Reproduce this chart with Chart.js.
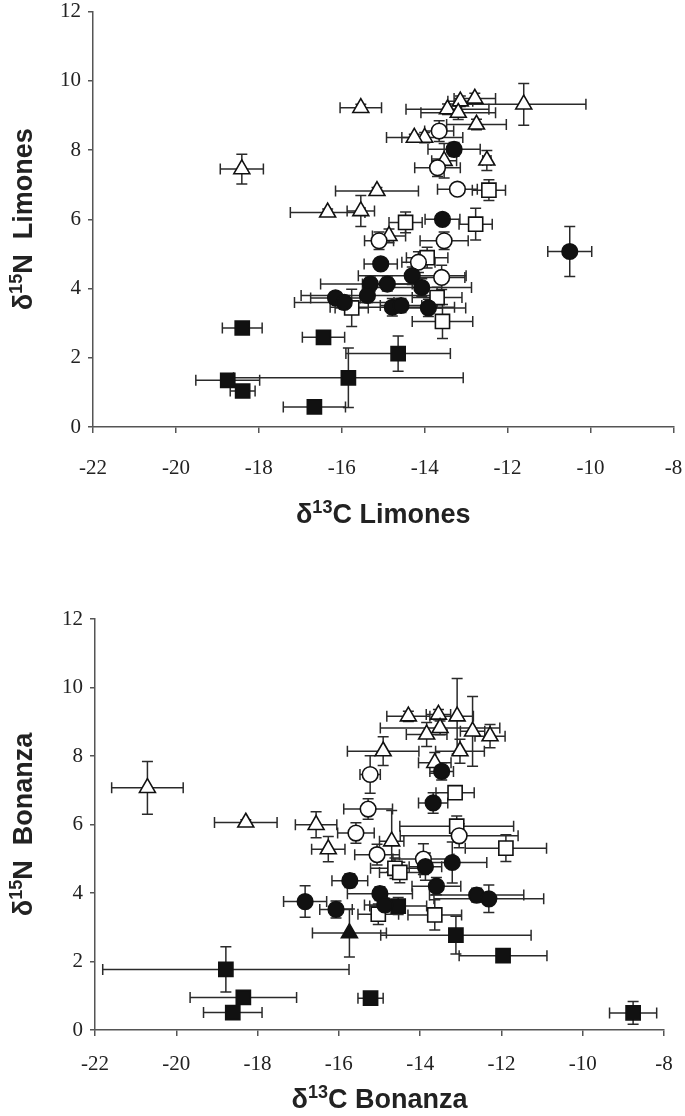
<!DOCTYPE html>
<html>
<head>
<meta charset="utf-8">
<script src="https://cdn.jsdelivr.net/npm/chart.js@4.4.1/dist/chart.umd.min.js"></script>
<style>
  html, body { margin: 0; padding: 0; background: #ffffff; }
  body { width: 685px; height: 1116px; position: relative; overflow: hidden; }
  .box { position: absolute; left: 0; width: 685px; height: 558px; }
  #boxTop { top: 0; }
  #boxBottom { top: 558px; }
</style>
</head>
<body>
<div class="box" id="boxTop"><canvas id="chartTop" width="685" height="558"></canvas></div>
<div class="box" id="boxBottom"><canvas id="chartBottom" width="685" height="558"></canvas></div>
<script>
// ---------- tick labels ----------
const xTickValues = [-22, -20, -18, -16, -14, -12, -10, -8];
const yTickValues = [0, 2, 4, 6, 8, 10, 12];

// ---------- axis titles (text / superscript parts) ----------
const limXTitle = [['δ', false], ['13', true], ['C Limones', false]];
const limYTitle = [['δ', false], ['15', true], ['N  Limones', false]];
const bonXTitle = [['δ', false], ['13', true], ['C Bonanza', false]];
const bonYTitle = [['δ', false], ['15', true], ['N  Bonanza', false]];

// ---------- Limones (top) ----------
const limOpenTriX    = [-18.41, -15.54, -15.15, -16.34, -15.54, -11.61, -12.79, -13.14, -13.45, -13.19, -12.75, -14.00, -14.25, -13.53, -12.50, -14.86];
const limOpenTriY    = [7.45, 9.22, 6.82, 6.20, 6.24, 9.32, 9.49, 9.41, 9.18, 9.08, 8.74, 8.36, 8.36, 7.69, 7.70, 5.52];
const limOpenTriXErr = [0.52, 0.50, 1.00, 0.90, 0.33, 1.50, 0.50, 0.30, 1.00, 0.90, 0.72, 0.92, 0.30, 0.30, 0.10, 0.40];
const limOpenTriYErr = [0.43, 0.10, 0.10, 0.10, 0.45, 0.60, 0.15, 0.15, 0.15, 0.20, 0.15, 0.15, 0.10, 0.50, 0.29, 0.20];

const limOpenCircX    = [-13.65, -13.69, -13.21, -13.53, -14.15, -13.59, -15.10];
const limOpenCircY    = [8.55, 7.49, 6.87, 5.38, 4.76, 4.32, 5.38];
const limOpenCircXErr = [0.35, 0.55, 0.48, 0.58, 0.40, 0.56, 0.35];
const limOpenCircYErr = [0.30, 0.25, 0.10, 0.25, 0.30, 0.35, 0.25];

const limFillCircX    = [-13.29, -13.57, -10.50, -15.06, -15.31, -14.90, -14.30, -14.07, -15.38, -16.15, -15.94, -14.78, -14.57, -13.91];
const limFillCircY    = [8.02, 6.00, 5.07, 4.71, 4.13, 4.13, 4.37, 4.03, 3.80, 3.73, 3.60, 3.46, 3.51, 3.44];
const limFillCircXErr = [0.63, 0.42, 0.53, 0.40, 1.20, 0.60, 1.30, 1.20, 1.60, 0.60, 1.20, 1.50, 0.50, 0.90];
const limFillCircYErr = [0.20, 0.15, 0.72, 0.15, 0.20, 0.20, 0.25, 0.25, 0.20, 0.15, 0.20, 0.25, 0.20, 0.25];

const limOpenSqX    = [-14.46, -12.77, -12.45, -13.57, -15.76, -13.94, -13.70];
const limOpenSqY    = [5.91, 5.86, 6.84, 3.05, 3.44, 4.89, 3.74];
const limOpenSqXErr = [0.40, 0.40, 0.40, 0.73, 0.40, 0.50, 0.60];
const limOpenSqYErr = [0.30, 0.46, 0.30, 0.49, 0.54, 0.30, 0.30];

const limFillSqX    = [-18.40, -16.44, -18.75, -15.84, -18.39, -16.66, -14.64];
const limFillSqY    = [2.86, 2.59, 1.35, 1.42, 1.04, 0.58, 2.12];
const limFillSqXErr = [0.48, 0.51, 0.77, 2.77, 0.30, 0.75, 1.26];
const limFillSqYErr = [0.10, 0.10, 0.10, 0.86, 0.10, 0.10, 0.51];

// ---------- Bonanza (bottom) ----------
const bonOpenTriX    = [-20.71, -14.91, -18.29, -16.56, -16.26, -14.29, -13.55, -13.09, -13.84, -13.51, -12.71, -12.28, -13.02, -13.64, -14.70];
const bonOpenTriY    = [7.07, 8.14, 6.06, 5.99, 5.28, 9.16, 9.21, 9.16, 8.63, 8.82, 8.72, 8.58, 8.14, 7.80, 5.51];
const bonOpenTriXErr = [0.88, 0.88, 0.77, 0.51, 0.41, 0.53, 0.30, 0.40, 0.50, 1.47, 0.30, 0.37, 0.60, 0.40, 0.30];
const bonOpenTriYErr = [0.77, 0.42, 0.08, 0.38, 0.37, 0.15, 0.15, 1.10, 0.35, 0.20, 1.02, 0.34, 0.35, 0.30, 0.90];

const bonFillTriX    = [-15.74];
const bonFillTriY    = [2.83];
const bonFillTriXErr = [0.91];
const bonFillTriYErr = [0.70];

const bonOpenCircX    = [-15.23, -15.28, -15.58, -15.06, -13.92, -13.04];
const bonOpenCircY    = [7.46, 6.45, 5.75, 5.12, 4.99, 5.67];
const bonOpenCircXErr = [0.25, 0.60, 0.45, 0.55, 0.75, 1.45];
const bonOpenCircYErr = [0.55, 0.30, 0.30, 0.30, 0.45, 0.35];

const bonFillCircX    = [-13.47, -13.68, -15.73, -16.83, -16.07, -14.99, -14.87, -13.87, -13.21, -13.60, -12.61, -12.31];
const bonFillCircY    = [7.55, 6.63, 4.36, 3.75, 3.52, 3.98, 3.65, 4.77, 4.89, 4.20, 3.94, 3.83];
const bonFillCircXErr = [0.29, 0.36, 0.44, 0.53, 0.40, 0.80, 0.50, 0.40, 0.85, 0.60, 1.16, 1.35];
const bonFillCircYErr = [0.25, 0.30, 0.20, 0.46, 0.25, 0.20, 0.20, 0.40, 0.60, 0.25, 0.20, 0.40];

const bonOpenSqX    = [-11.89, -13.14, -13.64, -14.62, -14.50, -13.10, -15.03];
const bonOpenSqY    = [5.31, 6.93, 3.36, 4.72, 4.60, 5.95, 3.38];
const bonOpenSqXErr = [1.00, 0.47, 0.66, 0.60, 0.50, 1.40, 0.50];
const bonOpenSqYErr = [0.39, 0.15, 0.44, 0.30, 0.30, 0.30, 0.30];

const bonFillSqX    = [-18.78, -18.35, -18.61, -15.22, -13.12, -11.96, -8.76, -14.54];
const bonFillSqY    = [1.77, 0.95, 0.51, 0.93, 2.77, 2.17, 0.50, 3.62];
const bonFillSqXErr = [3.03, 1.31, 0.72, 0.31, 1.85, 1.08, 0.58, 0.70];
const bonFillSqYErr = [0.66, 0.15, 0.10, 0.10, 0.55, 0.10, 0.33, 0.25];

// ---------- helpers ----------
function pts(xs, ys) { return xs.map((v, i) => ({ x: v, y: ys[i] })); }

function makeSet(label, xs, ys, xe, ye, style, filled, radius) {
  return {
    label: label,
    data: pts(xs, ys),
    xErr: xe,
    yErr: ye,
    showLine: false,
    pointStyle: style,
    pointRadius: radius,
    pointHoverRadius: radius,
    pointBorderWidth: 1.6,
    pointBackgroundColor: filled ? '#111111' : '#ffffff',
    pointBorderColor: '#111111',
    backgroundColor: filled ? '#111111' : '#ffffff',
    borderColor: '#111111'
  };
}

const errorBars = {
  id: 'errorBars',
  beforeDatasetsDraw(chart) {
    const ctx = chart.ctx;
    const xs = chart.scales.x, ys = chart.scales.y;
    const cap = 5.5;
    ctx.save();
    ctx.strokeStyle = '#2a2a2a';
    ctx.lineWidth = 1.5;
    chart.data.datasets.forEach(ds => {
      ds.data.forEach((p, i) => {
        const px = xs.getPixelForValue(p.x);
        const py = ys.getPixelForValue(p.y);
        const ex = ds.xErr[i], ey = ds.yErr[i];
        ctx.beginPath();
        if (ex > 0) {
          const xl = xs.getPixelForValue(p.x - ex);
          const xr = xs.getPixelForValue(p.x + ex);
          ctx.moveTo(xl, py); ctx.lineTo(xr, py);
          ctx.moveTo(xl, py - cap); ctx.lineTo(xl, py + cap);
          ctx.moveTo(xr, py - cap); ctx.lineTo(xr, py + cap);
        }
        if (ey > 0) {
          const yt = ys.getPixelForValue(p.y + ey);
          const yb = ys.getPixelForValue(p.y - ey);
          ctx.moveTo(px, yt); ctx.lineTo(px, yb);
          ctx.moveTo(px - cap, yt); ctx.lineTo(px + cap, yt);
          ctx.moveTo(px - cap, yb); ctx.lineTo(px + cap, yb);
        }
        ctx.stroke();
      });
    });
    ctx.restore();
  }
};

// axis titles with real superscripts, drawn as text on the chart canvas
const TITLE_SIZE = 27, SUP_SIZE = 18, SUP_RISE = 10;
const TITLE_FAMILY = '"Liberation Sans", Arial, sans-serif';
function drawRich(ctx, parts, cx, cy, rotate) {
  let total = 0;
  const items = parts.map(([t, sup]) => {
    const font = 'bold ' + (sup ? SUP_SIZE : TITLE_SIZE) + 'px ' + TITLE_FAMILY;
    ctx.font = font;
    const w = ctx.measureText(t).width;
    total += w;
    return { t, sup, font, w };
  });
  ctx.save();
  ctx.translate(cx, cy);
  if (rotate) ctx.rotate(-Math.PI / 2);
  ctx.fillStyle = '#222222';
  ctx.textAlign = 'left';
  ctx.textBaseline = 'alphabetic';
  const base = TITLE_SIZE * 0.716 / 2;
  let x = -total / 2;
  items.forEach(it => {
    ctx.font = it.font;
    ctx.fillText(it.t, x, base - (it.sup ? SUP_RISE : 0));
    x += it.w;
  });
  ctx.restore();
}
const axisTitles = {
  id: 'axisTitles',
  afterDraw(chart, args, opts) {
    const a = chart.chartArea;
    drawRich(chart.ctx, opts.xTitle, (a.left + a.right) / 2, a.bottom + opts.xOffset, false);
    drawRich(chart.ctx, opts.yTitle, opts.yX, (a.top + a.bottom) / 2, true);
  }
};

const tickFont = { family: '"Liberation Serif", "Times New Roman", serif', size: 21 };
const axisColor = '#555555';
const textColor = '#222222';

function buildOptions(cfg) {
  return {
    responsive: false,
    animation: false,
    devicePixelRatio: 1,
    events: [],
    layout: { padding: { top: cfg.padTop, right: cfg.padRight, left: 0, bottom: 0 } },
    plugins: {
      legend: { display: false }, tooltip: { enabled: false },
      axisTitles: { xTitle: cfg.xTitle, yTitle: cfg.yTitle, xOffset: cfg.xTitleOffset, yX: 22 }
    },
    scales: {
      x: {
        type: 'linear', min: -22, max: -8,
        afterBuildTicks: s => { s.ticks = xTickValues.map(v => ({ value: v })); },
        afterFit: s => { s.height = cfg.xHeight; s.paddingLeft = 0; s.paddingRight = 0; },
        ticks: { font: tickFont, color: textColor, padding: cfg.xTickPad, maxRotation: 0, autoSkip: false },
        grid: { display: true, drawOnChartArea: false, drawTicks: true, tickLength: 6, color: axisColor, lineWidth: 1.5 },
        border: { display: true, color: axisColor, width: 1.5 },
        title: { display: false }
      },
      y: {
        type: 'linear', min: 0, max: 12,
        afterBuildTicks: s => { s.ticks = yTickValues.map(v => ({ value: v })); },
        afterFit: s => { s.width = cfg.yWidth; s.paddingTop = 0; s.paddingBottom = 0; },
        ticks: { font: tickFont, color: textColor, padding: 7, autoSkip: false },
        grid: { display: true, drawOnChartArea: false, drawTicks: true, tickLength: 5, color: axisColor, lineWidth: 1.5 },
        border: { display: true, color: axisColor, width: 1.5 },
        title: { display: false }
      }
    }
  };
}

const R_CIRC = 7.8, R_TRI = 9.2, R_SQ = 10;

new Chart(document.getElementById('chartTop'), {
  type: 'scatter',
  data: {
    datasets: [
      makeSet('Filled circle', limFillCircX, limFillCircY, limFillCircXErr, limFillCircYErr, 'circle', true, R_CIRC),
      makeSet('Filled square', limFillSqX, limFillSqY, limFillSqXErr, limFillSqYErr, 'rect', true, R_SQ),
      makeSet('Open circle', limOpenCircX, limOpenCircY, limOpenCircXErr, limOpenCircYErr, 'circle', false, R_CIRC),
      makeSet('Open square', limOpenSqX, limOpenSqY, limOpenSqXErr, limOpenSqYErr, 'rect', false, R_SQ),
      makeSet('Open triangle', limOpenTriX, limOpenTriY, limOpenTriXErr, limOpenTriYErr, 'triangle', false, R_TRI)
    ]
  },
  options: buildOptions({
    padTop: 10, padRight: 11, yWidth: 93, xHeight: 131, xTickPad: 23, xTitleOffset: 86,
    xTitle: limXTitle, yTitle: limYTitle
  }),
  plugins: [errorBars, axisTitles]
});

new Chart(document.getElementById('chartBottom'), {
  type: 'scatter',
  data: {
    datasets: [
      makeSet('Filled circle', bonFillCircX, bonFillCircY, bonFillCircXErr, bonFillCircYErr, 'circle', true, R_CIRC),
      makeSet('Filled square', bonFillSqX, bonFillSqY, bonFillSqXErr, bonFillSqYErr, 'rect', true, R_SQ),
      makeSet('Filled triangle', bonFillTriX, bonFillTriY, bonFillTriXErr, bonFillTriYErr, 'triangle', true, R_TRI),
      makeSet('Open circle', bonOpenCircX, bonOpenCircY, bonOpenCircXErr, bonOpenCircYErr, 'circle', false, R_CIRC),
      makeSet('Open square', bonOpenSqX, bonOpenSqY, bonOpenSqXErr, bonOpenSqYErr, 'rect', false, R_SQ),
      makeSet('Open triangle', bonOpenTriX, bonOpenTriY, bonOpenTriXErr, bonOpenTriYErr, 'triangle', false, R_TRI)
    ]
  },
  options: buildOptions({
    padTop: 61, padRight: 21, yWidth: 95, xHeight: 86, xTickPad: 16, xTitleOffset: 68,
    xTitle: bonXTitle, yTitle: bonYTitle
  }),
  plugins: [errorBars, axisTitles]
});
</script>
</body>
</html>
